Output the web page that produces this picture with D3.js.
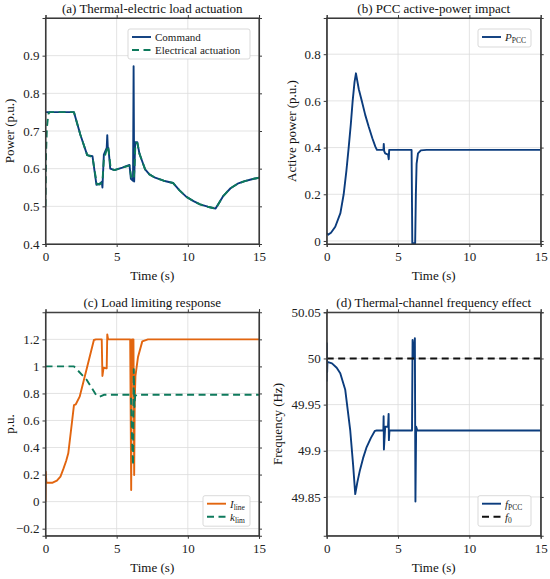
<!DOCTYPE html>
<html>
<head>
<meta charset="utf-8">
<script src="https://cdn.jsdelivr.net/npm/d3@7"></script>
<style>
  body { margin: 0; background: #fff; }
  text { font-family: "Liberation Serif", "Times New Roman", "DejaVu Serif", serif !important; }
</style>
</head>
<body>
<div id="vizArea"></div>
<script>
// time ticks shared by all panels
const timeTicks = [0, 5, 10, 15]

// (a) thermal-electric load actuation
const tCmd = [0, 2.0, 2.45, 2.93, 3.3, 3.58, 3.8, 3.95, 4.0, 4.1, 4.3, 4.34, 4.38, 4.42, 4.55, 4.85, 5.4, 5.9, 6.0, 6.15, 6.19, 6.23, 6.3, 6.45, 6.6, 6.78, 7.0, 7.3, 7.7, 8.3, 8.96, 9.4, 9.9, 10.4, 10.86, 11.4, 11.95, 12.5, 13.0, 13.5, 14.0, 14.5, 15]
const pCmd = [0.75, 0.75, 0.69, 0.636, 0.633, 0.557, 0.56, 0.565, 0.55, 0.637, 0.655, 0.689, 0.655, 0.655, 0.6, 0.596, 0.603, 0.61, 0.573, 0.568, 0.872, 0.566, 0.67, 0.67, 0.64, 0.621, 0.598, 0.585, 0.576, 0.568, 0.562, 0.543, 0.525, 0.514, 0.505, 0.499, 0.494, 0.528, 0.548, 0.56, 0.567, 0.572, 0.576]
const tAct = [0, 0.04, 0.1, 0.2, 0.3, 2.0, 2.45, 2.93, 3.3, 3.6, 3.8, 4.0, 4.1, 4.3, 4.36, 4.45, 4.58, 4.85, 5.4, 5.9, 6.02, 6.2, 6.25, 6.32, 6.45, 6.6, 6.78, 7.0, 7.3, 7.7, 8.3, 8.96, 9.4, 9.9, 10.4, 10.86, 11.4, 11.95, 12.5, 13.0, 13.5, 14.0, 14.5, 15]
const pAct = [0.5, 0.64, 0.71, 0.745, 0.75, 0.75, 0.69, 0.636, 0.631, 0.56, 0.558, 0.565, 0.625, 0.65, 0.66, 0.645, 0.6, 0.596, 0.603, 0.608, 0.578, 0.572, 0.6, 0.668, 0.668, 0.64, 0.621, 0.598, 0.585, 0.576, 0.568, 0.562, 0.543, 0.525, 0.514, 0.505, 0.499, 0.494, 0.528, 0.548, 0.56, 0.567, 0.572, 0.576]
const ticksA = [0.4, 0.5, 0.6, 0.7, 0.8, 0.9]

// (b) PCC active power
const tPcc = [0, 0.1, 0.3, 0.6, 0.96, 1.19, 1.38, 1.54, 1.69, 1.82, 1.95, 2.05, 2.25, 2.47, 2.7, 2.94, 3.2, 3.41, 3.52, 3.98, 4.0, 4.03, 4.1, 4.3, 4.35, 4.38, 4.45, 5.95, 6.0, 6.2, 6.25, 6.3, 6.4, 6.6, 7.0, 15]
const pPcc = [0.033, 0.027, 0.035, 0.061, 0.119, 0.2, 0.3, 0.4, 0.5, 0.6, 0.68, 0.718, 0.65, 0.597, 0.54, 0.49, 0.44, 0.404, 0.39, 0.39, 0.416, 0.385, 0.375, 0.37, 0.35, 0.39, 0.39, 0.39, -0.01, -0.01, 0.2, 0.33, 0.375, 0.388, 0.39, 0.39]
const ticksB = [0, 0.2, 0.4, 0.6, 0.8]

// (c) load limiting response
const tLine = [0, 0.02, 0.06, 0.5, 0.8, 1.05, 1.25, 1.45, 1.6, 1.85, 2.0, 2.13, 2.4, 2.9, 3.4, 3.55, 3.95, 4.0, 4.08, 4.3, 4.34, 4.4, 5.95, 6.02, 6.07, 6.18, 6.23, 6.27, 6.32, 6.5, 6.8, 7.2, 15]
const iLine = [0.0, 0.221, 0.14, 0.14, 0.155, 0.185, 0.24, 0.3, 0.357, 0.579, 0.714, 0.72, 0.776, 0.985, 1.195, 1.2, 1.2, 0.929, 0.99, 0.985, 1.237, 1.2, 1.2, 0.086, 1.2, 1.2, 0.197, 0.75, 0.93, 1.07, 1.185, 1.2, 1.2]
const tLim = [0, 2.0, 2.9, 3.55, 3.8, 4.1, 6.0, 6.1, 6.15, 6.2, 6.25, 6.3, 6.4, 15]
const kLim = [1.0, 1.0, 0.9, 0.79, 0.775, 0.79, 0.79, 0.4, 0.27, 0.98, 0.7, 0.78, 0.79, 0.79]
const ticksC = [-0.2, 0, 0.2, 0.4, 0.6, 0.8, 1, 1.2]

// (d) thermal-channel frequency effect
const tFreq = [0, 0.01, 0.03, 0.05, 0.37, 0.7, 0.95, 1.3, 1.65, 1.85, 2.0, 2.15, 2.33, 2.55, 2.8, 3.1, 3.38, 3.5, 3.97, 3.99, 4.01, 4.1, 4.3, 4.34, 4.36, 4.4, 5.98, 6.02, 6.1, 6.18, 6.22, 6.27, 6.35, 6.5, 15]
const fPcc = [49.975, 50.0164, 49.985, 49.9964, 49.9947, 49.99, 49.984, 49.966, 49.922, 49.885, 49.853, 49.866, 49.879, 49.892, 49.904, 49.914, 49.9216, 49.922, 49.922, 49.9375, 49.9014, 49.926, 49.926, 49.94, 49.9115, 49.922, 49.922, 50.02, 50.0, 50.022, 49.845, 49.926, 49.922, 49.922, 49.922]
const tNom = [0, 15]
const fNom = [50, 50]
const ticksD = [49.85, 49.9, 49.95, 50, 50.05]

const blue = '#0b3c7d', green = '#0e7a5c', orange = '#e2650f'
const serif = '"Liberation Serif", "Times New Roman", "DejaVu Serif", serif'

const svg = d3.select('#vizArea')
    .append('svg')
    .attr('width', 550)
    .attr('height', 579)
    .style('font-family', serif)

const zip = (ts, vs) => ts.map((t, i) => [t, vs[i]])

function panel(o) {
    const x = d3.scaleLinear().domain([0, 15]).range([o.x0, o.x1])
    const y = d3.scaleLinear().domain(o.yDomain).range([o.y1, o.y0])
    const g = svg.append('g')

    // grid
    g.selectAll('.gx').data(timeTicks).enter().append('line')
        .attr('x1', d => x(d)).attr('x2', d => x(d))
        .attr('y1', o.y0).attr('y2', o.y1)
        .attr('stroke', '#dcdcdc').attr('stroke-width', 0.8)
    g.selectAll('.gy').data(o.yTicks).enter().append('line')
        .attr('x1', o.x0).attr('x2', o.x1)
        .attr('y1', d => y(d)).attr('y2', d => y(d))
        .attr('stroke', '#dcdcdc').attr('stroke-width', 0.8)

    // series
    const clipId = 'clip' + o.id
    g.append('clipPath').attr('id', clipId).append('rect')
        .attr('x', o.x0).attr('y', o.y0).attr('width', o.x1 - o.x0).attr('height', o.y1 - o.y0)
    const line = d3.line().x(d => x(d[0])).y(d => y(d[1]))
    o.series.forEach(s => {
        g.append('path')
            .datum(zip(s.t, s.v))
            .attr('clip-path', `url(#${clipId})`)
            .attr('d', line)
            .attr('fill', 'none')
            .attr('stroke', s.color)
            .attr('stroke-width', 1.9)
            .attr('stroke-linejoin', 'round')
            .attr('stroke-dasharray', s.dash ? '7,4.5' : null)
    })

    // axes
    g.append('g').attr('transform', `translate(0,${o.y1})`)
        .call(d3.axisBottom(x).tickValues(timeTicks).tickSize(3).tickPadding(5))
    g.append('g').attr('transform', `translate(${o.x0},0)`)
        .call(d3.axisLeft(y).tickValues(o.yTicks).tickSize(3).tickPadding(3).tickFormat(o.fmt))
    g.append('g').attr('transform', `translate(0,${o.y0})`)
        .call(d3.axisTop(x).tickValues(timeTicks).tickSize(3).tickFormat(''))
    g.append('g').attr('transform', `translate(${o.x1},0)`)
        .call(d3.axisRight(y).tickValues(o.yTicks).tickSize(3).tickFormat(''))
    g.selectAll('.domain').attr('stroke', '#3a3a3a').attr('stroke-width', 1.1)
    g.selectAll('.tick line').attr('stroke', '#3a3a3a')
    g.selectAll('.tick text').attr('font-size', 13).attr('fill', '#222')
    g.append('rect').attr('x', o.x0).attr('y', o.y0).attr('width', o.x1 - o.x0).attr('height', o.y1 - o.y0)
        .attr('fill', 'none').attr('stroke', '#3a3a3a').attr('stroke-width', 1.1)

    // labels
    g.append('text').attr('x', (o.x0 + o.x1) / 2).attr('y', o.y0 - 5)
        .attr('text-anchor', 'middle').attr('font-size', 13).attr('fill', '#111').text(o.title)
    g.append('text').attr('x', (o.x0 + o.x1) / 2).attr('y', o.y1 + 36)
        .attr('text-anchor', 'middle').attr('font-size', 13).attr('fill', '#111').text('Time (s)')
    g.append('text').attr('transform', `translate(${o.yLabelX},${(o.y0 + o.y1) / 2}) rotate(-90)`)
        .attr('text-anchor', 'middle').attr('font-size', 13).attr('fill', '#111').text(o.yLabel)

    // legend
    const lg = o.legend
    g.append('rect').attr('x', lg.x).attr('y', lg.y).attr('width', lg.w).attr('height', lg.h)
        .attr('rx', 2).attr('fill', '#fff').attr('stroke', '#cfcfcf').attr('stroke-width', 0.8)
    lg.items.forEach((it, i) => {
        const yy = lg.y + 8 + i * 13
        g.append('line').attr('x1', lg.x + 4).attr('x2', lg.x + 23).attr('y1', yy).attr('y2', yy)
            .attr('stroke', it.color).attr('stroke-width', 1.9)
            .attr('stroke-dasharray', it.dash ? '7,4.5' : null)
        const tx = g.append('text').attr('x', lg.x + 27).attr('y', yy + 3.8)
            .attr('font-size', 11).attr('fill', '#222')
        if (it.sub !== undefined) {
            tx.append('tspan').attr('font-style', 'italic').text(it.label)
            tx.append('tspan').attr('font-size', 7.5).attr('dy', 2).text(it.sub)
        } else {
            tx.text(it.label)
        }
    })
}

const L = { x0: 45.5, x1: 259 }, R = { x0: 326.7, x1: 540.7 }
const T = { y0: 18, y1: 244 }, B = { y0: 312.3, y1: 535.7 }

panel({
    id: 'a', ...L, ...T, yDomain: [0.4, 1.0], yTicks: ticksA, fmt: d3.format('.1f'),
    title: '(a) Thermal-electric load actuation', yLabel: 'Power (p.u.)', yLabelX: 14,
    series: [
        { t: tCmd, v: pCmd, color: blue },
        { t: tAct, v: pAct, color: green, dash: true }
    ],
    legend: { x: 128, y: 29, w: 122, h: 30, items: [
        { label: 'Command', color: blue },
        { label: 'Electrical actuation', color: green, dash: true }
    ] }
})

panel({
    id: 'b', ...R, ...T, yDomain: [-0.013, 0.955], yTicks: ticksB, fmt: d => d === 0 ? '0' : d3.format('.1f')(d),
    title: '(b) PCC active-power impact', yLabel: 'Active power (p.u.)', yLabelX: 296,
    series: [{ t: tPcc, v: pPcc, color: blue }],
    legend: { x: 478, y: 29, w: 53, h: 18, items: [
        { label: 'P', sub: 'PCC', color: blue }
    ] }
})

panel({
    id: 'c', ...L, ...B, yDomain: [-0.252, 1.4], yTicks: ticksC, fmt: d => d3.format('~g')(d).replace('-', '\u2212'),
    title: '(c) Load limiting response', yLabel: 'p.u.', yLabelX: 14,
    series: [
        { t: tLine, v: iLine, color: orange },
        { t: tLim, v: kLim, color: green, dash: true }
    ],
    legend: { x: 203, y: 495.7, w: 47, h: 30.5, items: [
        { label: 'I', sub: 'line', color: orange },
        { label: 'k', sub: 'lim', color: green, dash: true }
    ] }
})

panel({
    id: 'd', ...R, ...B, yDomain: [49.808, 50.05], yTicks: ticksD, fmt: d3.format('~g'),
    title: '(d) Thermal-channel frequency effect', yLabel: 'Frequency (Hz)', yLabelX: 282,
    series: [
        { t: tFreq, v: fPcc, color: blue },
        { t: tNom, v: fNom, color: '#111', dash: true }
    ],
    legend: { x: 478, y: 495.7, w: 53, h: 30.5, items: [
        { label: 'f', sub: 'PCC', color: blue },
        { label: 'f', sub: '0', color: '#111', dash: true }
    ] }
})
</script>
</body>
</html>
